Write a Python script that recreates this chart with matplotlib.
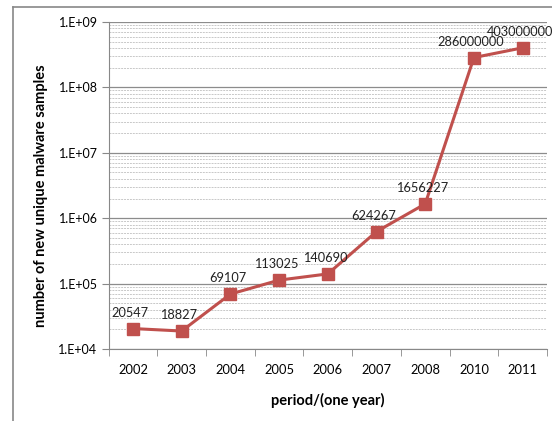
import matplotlib.pyplot as plt
from matplotlib.lines import Line2D
from matplotlib.ticker import LogLocator, FixedLocator

plt.rcParams['font.family'] = ['Lato', 'DejaVu Sans']

# Data
years = ['2002', '2003', '2004', '2005', '2006', '2007', '2008', '2010', '2011']
samples = [20547, 18827, 69107, 113025, 140690, 624267, 1656227, 286000000, 403000000]
ytick_vals = [1e4, 1e5, 1e6, 1e7, 1e8, 1e9]
ytick_labels = ['1.E+04', '1.E+05', '1.E+06', '1.E+07', '1.E+08', '1.E+09']

fig = plt.figure(figsize=(5.52, 4.21), dpi=100)
ax = fig.add_axes([108.6 / 552, 1 - 349 / 421, (547 - 108.6) / 552, (349 - 22) / 421])

x = list(range(len(years)))
ax.plot(x, samples, color='#C0504D', linewidth=2.2, marker='s', markersize=8,
        markerfacecolor='#C0504D', markeredgecolor='#C0504D', zorder=3)

for xi, v in zip(x, samples):
    ax.annotate(str(v), (xi, v), xytext=(-2, 7), textcoords='offset points',
                ha='center', va='bottom', fontsize=9.2, color='#222222',
                annotation_clip=False, zorder=4)

ax.set_yscale('log')
ax.set_ylim(1e4, 1e9)
ax.set_xlim(-0.5, len(years) - 0.5)
ax.yaxis.set_major_locator(FixedLocator(ytick_vals))
ax.set_yticklabels(ytick_labels)
ax.yaxis.set_minor_locator(LogLocator(base=10, subs=range(2, 10)))
ax.tick_params(axis='y', which='minor', length=0)
ax.tick_params(axis='y', which='major', length=5, color='#888888', labelsize=9, pad=3)

ax.set_xticks(x)
ax.set_xticklabels(years)
ax.set_xticks([i - 0.5 for i in range(len(years) + 1)], minor=True)
ax.tick_params(axis='x', which='major', length=0, labelsize=9.3, pad=11)
ax.tick_params(axis='x', which='minor', length=5, color='#888888')

ax.grid(True, which='major', axis='y', color='#8c8c8c', linewidth=0.9)
ax.grid(True, which='minor', axis='y', color='#c8c8c8', linewidth=0.7, linestyle=(0, (2, 1)))
ax.set_axisbelow(True)

for side in ['top', 'right']:
    ax.spines[side].set_visible(False)
ax.spines['left'].set_color('#888888')
ax.spines['bottom'].set_color('#888888')

ax.set_xlabel('period/(one year)', fontsize=10.5, fontweight='bold', labelpad=12)
ax.set_ylabel('number of new unique malware samples', fontsize=10.5, fontweight='bold',
              va='center')
ax.yaxis.set_label_coords(-0.155, 0.47)

# outer chart border
fig.add_artist(Line2D([13 / 552, 13 / 552], [0, 1 - 7 / 421], color='#888888', linewidth=1.2))
fig.add_artist(Line2D([13 / 552, 1], [1 - 7 / 421, 1 - 7 / 421], color='#888888', linewidth=1.2))

fig.savefig('out.png', dpi=100)
